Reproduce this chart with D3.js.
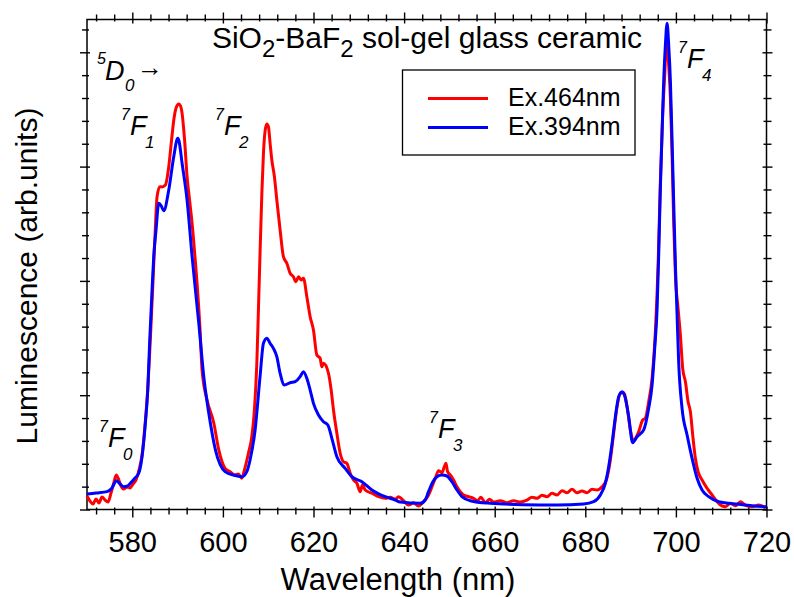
<!DOCTYPE html>
<html>
<head>
<meta charset="utf-8">
<script src="https://cdn.jsdelivr.net/npm/d3@7"></script>
<style>
  body { margin: 0; background: #fff; }
  svg { display: block; }
  text { font-family: "Liberation Sans", Arial, Helvetica, sans-serif; fill: #000; }
</style>
</head>
<body>
<svg id="chart" width="794" height="597"></svg>
<script>
// Emission spectra of Eu3+ in SiO2-BaF2 sol-gel glass ceramic (arb. units)
const wavelengthRed = [
  570.00,570.66,571.33,571.99,572.65,573.31,573.98,574.64,575.30,575.96,576.47,576.85,577.51,578.17,578.84,579.50,
  580.16,580.82,581.49,582.15,582.81,583.47,584.03,584.58,585.02,585.46,586.06,586.57,587.30,588.05,588.67,589.22,
  589.66,590.26,590.65,590.99,591.54,592.09,592.64,593.20,593.86,594.30,594.96,595.40,596.51,597.99,599.09,600.48,
  601.59,602.69,603.42,604.17,604.75,605.63,606.38,606.96,607.49,607.84,608.22,608.60,608.95,609.33,609.70,610.05,
  610.42,610.80,611.37,611.90,612.63,613.36,614.11,614.84,615.57,616.10,616.68,617.27,617.78,618.53,619.26,619.99,
  620.74,621.47,621.84,622.20,623.30,623.90,624.41,625.16,625.89,626.62,627.37,628.10,628.83,629.58,630.31,630.81,
  631.41,632.89,634.35,635.83,636.93,638.04,638.77,639.87,640.98,642.08,643.19,644.29,645.40,646.15,646.88,647.61,
  648.36,648.87,649.24,649.60,650.19,650.92,651.67,652.40,653.13,654.23,655.34,656.22,656.97,657.92,658.87,659.75,
  661.23,662.71,664.17,665.65,667.13,668.23,669.34,670.44,671.55,672.65,673.76,674.86,675.97,677.07,678.17,679.28,
  680.38,681.49,682.59,683.70,684.65,685.53,686.26,687.01,687.74,688.47,689.22,689.95,690.68,691.79,692.67,693.26,
  693.99,694.74,695.47,696.07,696.57,697.08,697.53,697.97,698.41,698.79,699.16,699.51,699.89,700.48,700.99,701.50,
  702.10,702.69,703.20,703.71,704.30,704.90,705.78,706.89,707.99,709.10,709.83,710.93,712.04,713.14,714.25,715.35,
  716.83,718.29,719.77
];
const intensityRed = [
  0.118,0.074,0.048,0.092,0.057,0.109,0.083,0.066,0.144,0.241,0.302,0.276,0.206,0.179,0.197,0.188,
  0.223,0.258,0.346,0.477,0.739,1.089,1.527,2.008,2.402,2.734,2.824,2.822,2.839,2.999,3.233,3.425,
  3.513,3.548,3.530,3.466,3.233,2.912,2.708,2.504,2.200,1.979,1.570,1.220,0.958,0.757,0.521,0.360,
  0.331,0.302,0.311,0.273,0.346,0.492,0.637,0.871,1.279,1.745,2.270,2.766,3.116,3.317,3.373,3.349,
  3.204,3.058,2.912,2.708,2.445,2.212,2.154,2.067,2.037,1.993,2.037,2.008,2.023,1.862,1.687,1.570,
  1.352,1.323,1.249,1.279,1.192,1.045,0.871,0.667,0.492,0.418,0.404,0.317,0.258,0.229,0.156,0.214,
  0.171,0.142,0.112,0.098,0.107,0.089,0.112,0.077,0.039,0.059,0.031,0.068,0.127,0.199,0.273,0.339,
  0.322,0.374,0.404,0.331,0.302,0.258,0.199,0.156,0.127,0.112,0.098,0.077,0.107,0.059,0.089,0.066,
  0.077,0.059,0.077,0.066,0.083,0.107,0.098,0.124,0.112,0.142,0.127,0.164,0.147,0.177,0.147,0.162,
  0.147,0.177,0.171,0.199,0.258,0.433,0.667,0.899,1.017,1.022,0.899,0.696,0.608,0.681,0.783,0.798,
  0.943,1.148,1.556,2.139,2.868,3.452,3.801,4.125,3.889,3.598,3.102,2.518,2.052,1.760,1.527,1.235,
  1.118,0.943,0.856,0.652,0.448,0.331,0.258,0.185,0.127,0.068,0.039,0.024,0.054,0.033,0.068,0.039,
  0.024,0.039,0.016
];

const wavelengthBlue = [
  570.00,572.00,574.42,575.52,576.47,577.29,578.10,578.98,579.56,580.60,581.42,582.15,582.88,583.41,583.85,584.36,
  584.73,585.24,585.84,586.41,586.94,588.05,589.15,590.04,590.31,590.99,592.09,593.20,594.68,595.78,597.24,598.35,
  600.48,602.30,604.17,605.28,606.00,607.11,608.20,608.95,609.70,610.42,611.15,611.90,612.63,613.58,614.84,615.95,
  617.05,617.78,618.53,619.26,619.99,621.10,622.20,623.17,624.05,625.16,626.99,628.47,630.68,632.89,635.83,638.04,
  639.14,643.56,644.66,645.39,646.36,647.25,648.35,649.46,650.56,651.67,652.77,654.60,659.02,666.38,673.76,679.63,
  681.84,683.32,684.42,685.16,685.91,686.64,687.37,688.12,688.85,689.58,690.45,691.43,692.89,693.99,694.74,695.32,
  695.85,696.20,696.57,696.95,697.30,697.68,698.05,698.41,698.79,699.16,699.51,699.89,700.26,700.61,701.36,702.47,
  703.57,704.68,705.78,707.24,709.45,713.87,716.83,720.00
];
const intensityBlue = [
  0.136,0.144,0.156,0.188,0.252,0.223,0.199,0.206,0.229,0.276,0.317,0.462,0.754,1.045,1.483,1.920,
  2.212,2.445,2.679,2.655,2.614,2.795,3.087,3.248,3.224,3.029,2.708,2.212,1.629,1.162,0.754,0.521,
  0.331,0.302,0.287,0.331,0.433,0.696,1.162,1.454,1.498,1.454,1.410,1.337,1.192,1.089,1.109,1.118,
  1.162,1.206,1.148,1.045,0.929,0.827,0.768,0.739,0.623,0.462,0.360,0.287,0.243,0.171,0.112,0.083,
  0.066,0.054,0.083,0.156,0.243,0.287,0.302,0.293,0.243,0.171,0.112,0.077,0.054,0.042,0.039,0.048,
  0.068,0.127,0.229,0.374,0.579,0.812,0.987,1.031,0.973,0.812,0.585,0.637,0.696,0.885,1.089,1.410,
  1.760,2.227,2.810,3.305,3.743,4.064,4.254,4.064,3.743,3.218,2.693,2.139,1.702,1.293,0.885,0.652,
  0.448,0.273,0.171,0.112,0.068,0.046,0.033,0.024
];

const seriesNames = ["Ex.464nm", "Ex.394nm"];
const seriesColors = ["#ff0000", "#0000ff"];
const xMajorTicks = [580, 600, 620, 640, 660, 680, 700, 720];
const xDomain = [570, 720];
const yDomain = [0, 4.287];
const yMajorTicks = [0, 1, 2, 3, 4];

// ---- layout ----
const svg = d3.select("#chart");
const plot = { left: 87, right: 766.5, top: 19.5, bottom: 509.5 };

const x = d3.scaleLinear().domain(xDomain).range([plot.left, plot.right]);
const y = d3.scaleLinear().domain(yDomain).range([plot.bottom, plot.top]);

const xMinorTicks = d3.range(572, 720, 4).filter(v => !xMajorTicks.includes(v));
const yMinorTicks = d3.range(0.2, 4.21, 0.2).map(v => +v.toFixed(1)).filter(v => !yMajorTicks.includes(v));

// axis helper: ticks crossing the frame line
function drawAxis(gen, translate, values, outer, inner, labels, dim) {
  const g = svg.append("g").attr("transform", translate)
    .call(gen.tickValues(values).tickSizeInner(outer).tickSizeOuter(0)
      .tickFormat(labels ? d3.format("d") : () => ""));
  g.select(".domain").remove();
  g.selectAll(".tick line").attr("stroke", "#000").attr("stroke-width", 1.4).attr(dim + "1", inner);
  return g;
}

// bottom
const gxb = drawAxis(d3.axisBottom(x).tickPadding(14), `translate(0,${plot.bottom})`, xMajorTicks, 8, -3, true, "y");
gxb.selectAll("text").attr("font-size", 29).attr("font-family", "'Liberation Sans', Arial, sans-serif").attr("fill", "#000");
drawAxis(d3.axisBottom(x), `translate(0,${plot.bottom})`, xMinorTicks, 5, -2, false, "y");
// top
drawAxis(d3.axisTop(x), `translate(0,${plot.top})`, xMajorTicks, 7, 4, false, "y");
drawAxis(d3.axisTop(x), `translate(0,${plot.top})`, xMinorTicks, 5, 2, false, "y");
// left
drawAxis(d3.axisLeft(y), `translate(${plot.left},0)`, yMajorTicks, 7, 3, false, "x");
drawAxis(d3.axisLeft(y), `translate(${plot.left},0)`, yMinorTicks, 5, 2, false, "x");
// right
drawAxis(d3.axisRight(y), `translate(${plot.right},0)`, yMajorTicks, 6, -4, false, "x");
drawAxis(d3.axisRight(y), `translate(${plot.right},0)`, yMinorTicks, 5, -3, false, "x");

// frame
svg.append("rect")
  .attr("x", plot.left).attr("y", plot.top)
  .attr("width", plot.right - plot.left).attr("height", plot.bottom - plot.top)
  .attr("fill", "none").attr("stroke", "#000").attr("stroke-width", 1.5);

// spectra
const line = d3.line()
  .x(d => x(d[0]))
  .y(d => y(d[1]))
  .curve(d3.curveMonotoneX);

const spectra = [
  d3.zip(wavelengthRed, intensityRed),
  d3.zip(wavelengthBlue, intensityBlue)
];
spectra.forEach((pts, i) => {
  svg.append("path")
    .datum(pts)
    .attr("d", line)
    .attr("fill", "none")
    .attr("stroke", seriesColors[i])
    .attr("stroke-width", 3)
    .attr("stroke-linejoin", "round");
});

// axis titles
svg.append("text")
  .attr("x", 398).attr("y", 590)
  .attr("text-anchor", "middle").attr("font-size", 31)
  .text("Wavelength (nm)");

svg.append("text")
  .attr("transform", "translate(37,276) rotate(-90)")
  .attr("text-anchor", "middle").attr("font-size", 30)
  .text("Luminescence (arb.units)");

// chart title with subscripts
const title = svg.append("text")
  .attr("x", 427).attr("y", 48).attr("text-anchor", "middle").attr("font-size", 30);
title.append("tspan").text("SiO");
title.append("tspan").attr("dy", 9).attr("font-size", 24).text("2");
title.append("tspan").attr("dy", -9).text("-BaF");
title.append("tspan").attr("dy", 9).attr("font-size", 24).text("2");
title.append("tspan").attr("dy", -9).text(" sol-gel glass ceramic");

// legend
const legend = svg.append("g");
legend.append("rect")
  .attr("x", 402.5).attr("y", 70).attr("width", 232.5).attr("height", 85)
  .attr("fill", "#fff").attr("stroke", "#000").attr("stroke-width", 1.3);
seriesNames.forEach((name, i) => {
  const ly = 98.5 + i * 29;
  legend.append("line")
    .attr("x1", 428).attr("x2", 488).attr("y1", ly).attr("y2", ly)
    .attr("stroke", seriesColors[i]).attr("stroke-width", 3);
  legend.append("text")
    .attr("x", 508).attr("y", ly + 7).attr("font-size", 25)
    .text(name);
});

// transition labels: superscript, italic term symbol, subscript
const transitions = [
  { sup: "7", main: "F", sub: "0", x: 108, y: 447 },
  { sup: "7", main: "F", sub: "1", x: 130, y: 135 },
  { sup: "7", main: "F", sub: "2", x: 224, y: 135 },
  { sup: "7", main: "F", sub: "3", x: 438, y: 438 },
  { sup: "7", main: "F", sub: "4", x: 687, y: 68 }
];
transitions.forEach(t => {
  const g = svg.append("g").attr("transform", `translate(${t.x},${t.y})`).attr("font-style", "italic");
  g.append("text").attr("x", -9).attr("y", -15).attr("font-size", 16).text(t.sup);
  g.append("text").attr("x", 0).attr("y", 0).attr("font-size", 27).text(t.main);
  g.append("text").attr("x", 15).attr("y", 13).attr("font-size", 17).text(t.sub);
});

// initial level 5D0 with arrow
const d0 = svg.append("g").attr("transform", "translate(105,80)");
d0.append("text").attr("x", -8).attr("y", -16).attr("font-size", 16).attr("font-style", "italic").text("5");
d0.append("text").attr("x", 0).attr("y", 0).attr("font-size", 27).attr("font-style", "italic").text("D");
d0.append("text").attr("x", 20).attr("y", 11).attr("font-size", 17).attr("font-style", "italic").text("0");
d0.append("text").attr("x", 32).attr("y", -4).attr("font-size", 26)
  .attr("font-family", "'DejaVu Sans', sans-serif").text("\u2192");
</script>
</body>
</html>
